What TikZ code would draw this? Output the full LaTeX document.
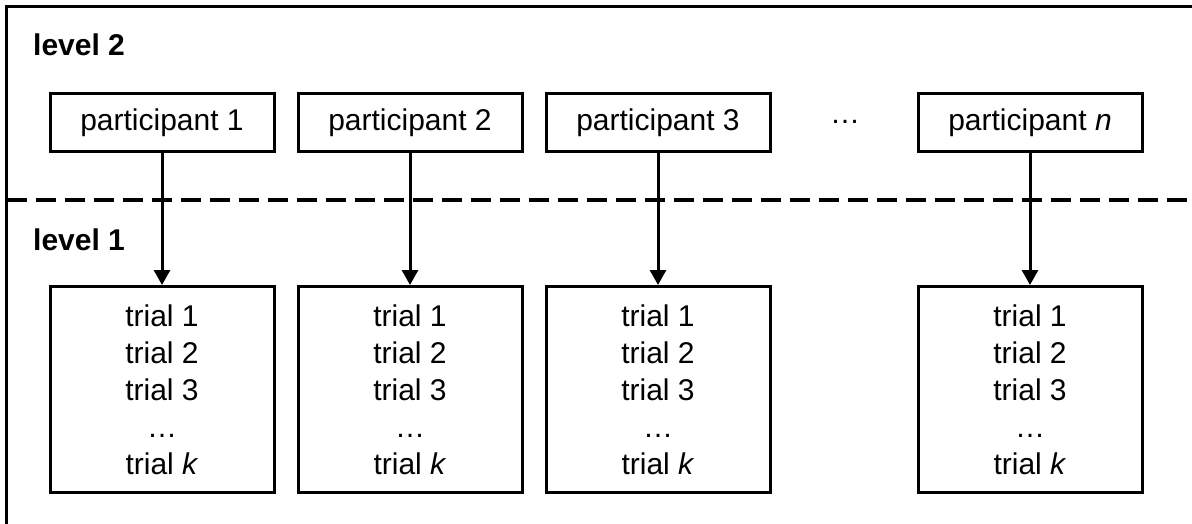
\documentclass[tikz,border=0pt]{standalone}
\usepackage{fontspec}
\setmainfont{Liberation Sans}
\usetikzlibrary{arrows.meta}
\begin{document}
\begin{tikzpicture}[x=1pt,y=-1pt,
  every node/.style={font=\fontsize{30}{37}\selectfont},
  pbox/.style={draw, line width=3pt, minimum width=224pt, minimum height=58pt, inner sep=0pt},
  tbox/.style={draw, line width=3pt, minimum width=224pt, minimum height=206pt, inner sep=0pt, align=center},
  lvl/.style={anchor=base west, font=\fontsize{30}{37}\selectfont\bfseries, inner sep=0pt},
  conn/.style={line width=3pt, -{Triangle[width=16pt,length=15pt]}},
  frame/.style={line width=3pt},
  sep/.style={line width=3pt, dash pattern=on 20pt off 9pt}
]
\useasboundingbox (0,0) rectangle (1192,524);
\fill[white] (0,0) rectangle (1192,524);
% frame
\coordinate (fbl) at (6.5,524);
\coordinate (ftl) at (6.5,6.5);
\coordinate (ftr) at (1192,6.5);
\draw[frame] (fbl) -- (ftl) -- (ftr);
% separator
\coordinate (sl) at (6.5,200);
\coordinate (sr) at (1192,200);
\draw[sep] (sl) -- (sr);
% level labels
\node[lvl] (l2) at (33,56) {level 2};
\node[lvl] (l1) at (33,250) {level 1};
% participants
\node[pbox] (p1) at (162,123) {participant 1};
\node[pbox] (p2) at (410,123) {participant 2};
\node[pbox] (p3) at (658,123) {participant 3};
\node[pbox] (pn) at (1030,123) {participant \textit{n}};
\node[anchor=base, inner sep=0pt] (pdots) at (845,124) {…};
% trials
\node[tbox] (t1) at (162,389.5) {trial 1\\trial 2\\trial 3\\…\\trial \textit{k}};
\node[tbox] (t2) at (410,389.5) {trial 1\\trial 2\\trial 3\\…\\trial \textit{k}};
\node[tbox] (t3) at (658,389.5) {trial 1\\trial 2\\trial 3\\…\\trial \textit{k}};
\node[tbox] (tn) at (1030,389.5) {trial 1\\trial 2\\trial 3\\…\\trial \textit{k}};
% connectors
\draw[conn] (p1) -- (t1);
\draw[conn] (p2) -- (t2);
\draw[conn] (p3) -- (t3);
\draw[conn] (pn) -- (tn);
\end{tikzpicture}
\end{document}
